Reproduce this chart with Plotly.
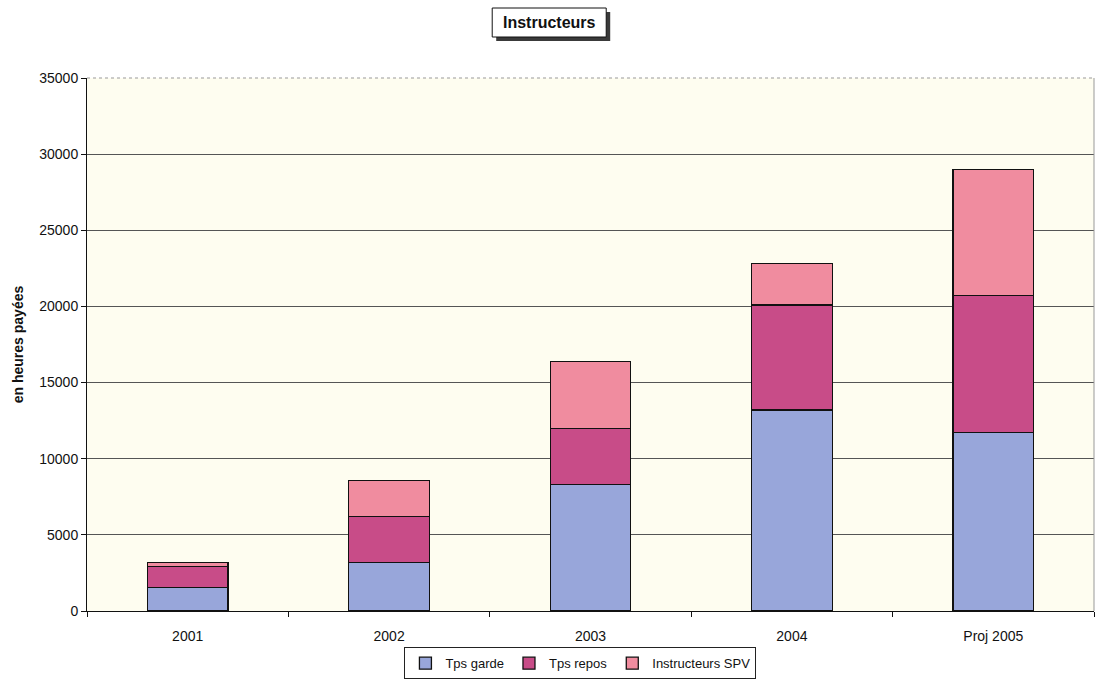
import plotly.graph_objects as go

categories = ["2001", "2002", "2003", "2004", "Proj 2005"]
tps_garde = [1550, 3200, 8300, 13200, 11700]
tps_repos = [1350, 3000, 3700, 6900, 9000]
instructeurs_spv = [300, 2350, 4400, 2700, 8300]

series_names = ["Tps garde", "Tps repos", "Instructeurs SPV"]
series_colors = ["#98a6da", "#c84c88", "#f08c9f"]

fig = go.Figure()
for name, vals, col in zip(series_names, [tps_garde, tps_repos, instructeurs_spv], series_colors):
    fig.add_trace(go.Bar(x=categories, y=vals, name=name,
                         marker=dict(color=col, line=dict(color="#111111", width=1.3))))

font_family = "Liberation Sans, Arial, sans-serif"
fig.update_layout(
    barmode="stack",
    bargap=0.6,
    width=1098, height=684,
    margin=dict(l=87, r=4, t=78, b=73),
    paper_bgcolor="white",
    plot_bgcolor="#fefdf0",
    font=dict(family=font_family, size=13, color="#111111"),
    showlegend=True,
    legend=dict(orientation="h", x=0.49, xanchor="center", y=-0.098, yanchor="middle",
                bordercolor="#222222", borderwidth=1, bgcolor="white",
                font=dict(size=13), itemwidth=30, tracegroupgap=0,
                traceorder="normal"),
    xaxis=dict(showline=True, linecolor="#111111", linewidth=1,
               ticks="outside", tickson="boundaries", ticklen=5, tickcolor="#111111",
               showgrid=False, tickfont=dict(size=14), ticklabelstandoff=12),
    yaxis=dict(range=[0, 35000], dtick=5000, tickformat="d", showline=True,
               linecolor="#111111", linewidth=1,
               ticks="outside", ticklen=5, tickcolor="#111111",
               showgrid=True, gridcolor="#555555", gridwidth=1, zeroline=False,
               tickfont=dict(size=14),
               title=dict(text="<b>en heures payées</b>", font=dict(size=14), standoff=12)),
)

# title box with drop shadow (pixel-sized shapes anchored above the plot)
title_x = 0.459
fig.add_shape(type="rect", xref="paper", yref="paper", xsizemode="pixel", ysizemode="pixel",
              xanchor=title_x, yanchor=1, x0=-53, x1=61, y0=37, y1=66,
              fillcolor="#3a3a3a", line=dict(width=0), layer="above")
fig.add_shape(type="rect", xref="paper", yref="paper", xsizemode="pixel", ysizemode="pixel",
              xanchor=title_x, yanchor=1, x0=-57, x1=57, y0=41, y1=70,
              fillcolor="white", line=dict(color="#111111", width=1), layer="above")
fig.add_annotation(x=title_x, y=1, xref="paper", yref="paper", yanchor="middle",
                   yshift=55.5, text="<b>Instructeurs</b>", showarrow=False,
                   font=dict(size=16, color="#111111", family=font_family))

fig.add_shape(type="line", xref="paper", yref="paper", x0=0, x1=1, y0=1, y1=1,
              line=dict(color="#999999", width=1, dash="dot"))
fig.add_shape(type="line", xref="paper", yref="paper", x0=1, x1=1, y0=0, y1=1,
              line=dict(color="#999999", width=1))

fig.write_html("out.html")
